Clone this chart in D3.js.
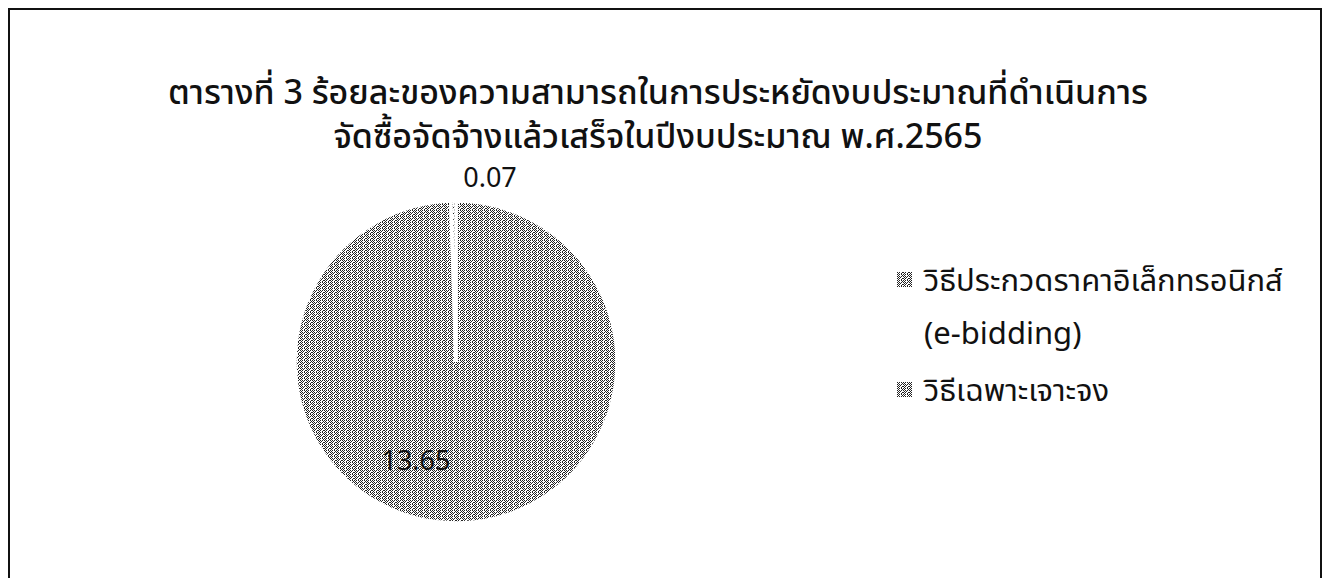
<!DOCTYPE html>
<html>
<head>
<meta charset="utf-8">
<script src="https://cdn.jsdelivr.net/npm/d3@7"></script>
<style>
  body { margin: 0; background: #fff; }
  svg text { font-family: "Noto Sans", "Noto Sans Thai", sans-serif; fill: #111; }
</style>
</head>
<body>
<div class="canvas"></div>
<script>
// chart data
const categories = ['วิธีประกวดราคาอิเล็กทรอนิกส์ (e-bidding)', 'วิธีเฉพาะเจาะจง'];
const values = [13.65, 0.07];
const titleLines = [
    'ตารางที่ 3 ร้อยละของความสามารถในการประหยัดงบประมาณที่ดำเนินการ',
    'จัดซื้อจัดจ้างแล้วเสร็จในปีงบประมาณ พ.ศ.2565'
];
const legendLines = [
    ['วิธีประกวดราคาอิเล็กทรอนิกส์', '(e-bidding)'],
    ['วิธีเฉพาะเจาะจง']
];

const width = 1327;
const height = 578;

const svg = d3.select('.canvas')
    .append('svg')
    .attr('width', width)
    .attr('height', height);

// dithered grey fill, like the scanned print
const defs = svg.append('defs');
const pat = defs.append('pattern')
    .attr('id', 'dither')
    .attr('width', 6)
    .attr('height', 6)
    .attr('patternUnits', 'userSpaceOnUse');
pat.append('rect').attr('width', 6).attr('height', 6).attr('fill', '#fff');
const dots = [[0,0],[2,0],[4,0],[1,1],[3,1],[0,2],[2,2],[5,2],[1,3],[4,3],[0,4],[2,4],[4,4],[1,5],[5,5]];
dots.forEach(p => {
    pat.append('rect')
        .attr('x', p[0]).attr('y', p[1])
        .attr('width', 1).attr('height', 1)
        .attr('fill', '#222');
});

// frame
svg.append('rect')
    .attr('x', 9)
    .attr('y', 9)
    .attr('width', 1312)
    .attr('height', 600)
    .attr('fill', 'none')
    .attr('stroke', '#111')
    .attr('stroke-width', 2);

// title
svg.selectAll('.title')
    .data(titleLines)
    .enter()
    .append('text')
    .attr('class', 'title')
    .attr('x', 658)
    .attr('y', (d, i) => 104 + i * 44)
    .attr('text-anchor', 'middle')
    .attr('font-size', 34)
    .attr('font-weight', 500)
    .text(d => d);

// pie
const cx = 456, cy = 362, radius = 161;
const pie = d3.pie().sort(null).value(d => d);
const arc = d3.arc().innerRadius(0).outerRadius(radius);

const g = svg.append('g')
    .attr('transform', `translate(${cx}, ${cy})`);

g.selectAll('path')
    .data(pie(values))
    .enter()
    .append('path')
    .attr('d', arc)
    .attr('fill', 'url(#dither)')
    .attr('stroke', '#fff')
    .attr('stroke-width', 3.5);

// data labels
svg.append('text')
    .attr('x', 416)
    .attr('y', 470)
    .attr('text-anchor', 'middle')
    .attr('font-size', 27)
    .text(values[0].toFixed(2));

svg.append('text')
    .attr('x', 490)
    .attr('y', 187)
    .attr('text-anchor', 'middle')
    .attr('font-size', 27)
    .text(values[1].toFixed(2));

// legend
const legend = svg.append('g').attr('transform', 'translate(897, 0)');
const legendY = [280, 390];
legendLines.forEach((lines, i) => {
    legend.append('rect')
        .attr('x', 0)
        .attr('y', legendY[i] - 8)
        .attr('width', 15)
        .attr('height', 15)
        .attr('fill', 'url(#dither)');
    lines.forEach((t, j) => {
        legend.append('text')
            .attr('x', 27)
            .attr('y', legendY[i] + 11 + j * 53)
            .attr('font-size', 31)
            .text(t);
    });
});
</script>
</body>
</html>
